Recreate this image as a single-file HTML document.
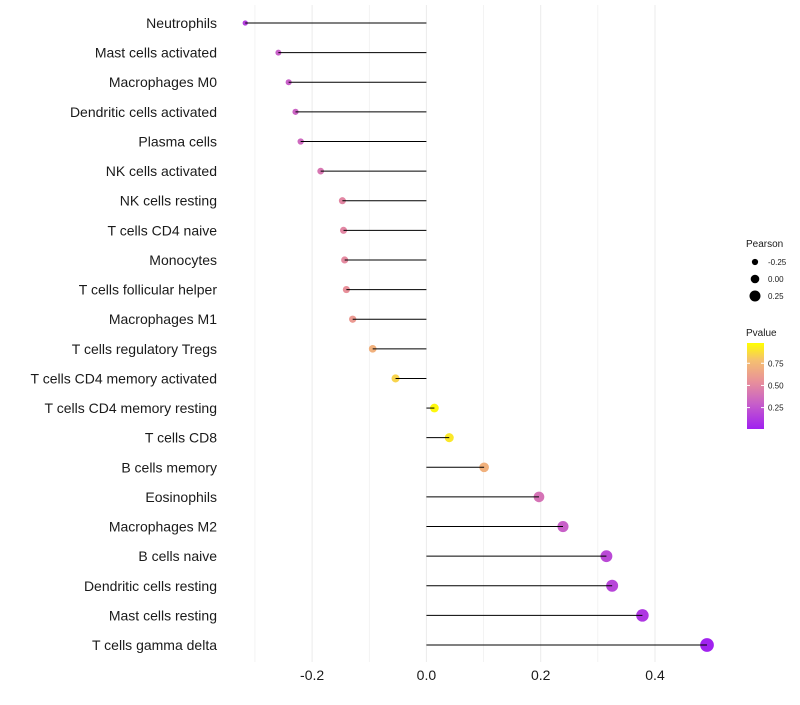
<!DOCTYPE html>
<html><head><meta charset="utf-8"><style>
body{margin:0;background:#fff;font-family:"Liberation Sans",sans-serif}
</style></head><body>
<svg id="c" width="800" height="700" xmlns="http://www.w3.org/2000/svg">
<defs><linearGradient id="g" x1="0" y1="1" x2="0" y2="0">
<stop offset="0" stop-color="#a020f0"/><stop offset="0.3" stop-color="#c860c8"/><stop offset="0.55" stop-color="#e8909a"/><stop offset="0.8" stop-color="#f5c070"/><stop offset="1" stop-color="#ffff00"/></linearGradient></defs>
</svg>
<script>
const categories=["Neutrophils","Mast cells activated","Macrophages M0","Dendritic cells activated","Plasma cells","NK cells activated","NK cells resting","T cells CD4 naive","Monocytes","T cells follicular helper","Macrophages M1","T cells regulatory  Tregs ","T cells CD4 memory activated","T cells CD4 memory resting","T cells CD8","B cells memory","Eosinophils","Macrophages M2","B cells naive","Dendritic cells resting","Mast cells resting","T cells gamma delta"];
const pearson=[-0.317,-0.259,-0.241,-0.229,-0.220,-0.185,-0.147,-0.145,-0.143,-0.140,-0.129,-0.094,-0.054,0.014,0.040,0.101,0.197,0.239,0.315,0.325,0.378,0.491];
const pvalue=[0.15,0.3,0.3,0.32,0.35,0.42,0.5,0.5,0.52,0.55,0.6,0.72,0.86,0.97,0.92,0.72,0.4,0.3,0.2,0.18,0.12,0.03];
const xTicks=[-0.2,0,0.2,0.4];
const xTickLabels=["-0.2","0.0","0.2","0.4"];
const svg=document.getElementById('c');const NS="http://www.w3.org/2000/svg";
const x=v=>426.4+v*571.5;const y=i=>23+i*29.62;
function el(t,a,p){const e=document.createElementNS(NS,t);for(const k in a)e.setAttribute(k,a[k]);(p||svg).appendChild(e);return e;}
const cStops=[[0.02,[160,32,240]],[0.3,[200,96,200]],[0.55,[232,144,154]],[0.8,[245,192,112]],[0.99,[255,255,0]]];
function col(p){if(p<=cStops[0][0])return `rgb(${cStops[0][1]})`;for(let i=1;i<cStops.length;i++){if(p<=cStops[i][0]){const[a,ca]=cStops[i-1],[b,cb]=cStops[i];const t=(p-a)/(b-a);return `rgb(${ca.map((v,j)=>Math.round(v+(cb[j]-v)*t))})`;}}return 'rgb(255,255,0)';}
const rad=v=>Math.max(1.5,4.3+5.2*v);
[-0.3,-0.1,0.1,0.3,-0.2,0,0.2,0.4].forEach(v=>{const g=el('line',{x1:x(v),x2:x(v),y1:5,y2:662,stroke:'#ebebeb','stroke-width':Number.isInteger(Math.round(v*10)/2)?1:0.6});
});
categories.forEach((c,i)=>{
const t=el('text',{x:217,y:y(i)+5,'text-anchor':'end','font-size':14,fill:'#1a1a1a'});t.textContent=c;

const d=el('circle',{cx:x(pearson[i]),cy:y(i),r:rad(pearson[i]),fill:col(pvalue[i])});

const l=el('line',{x1:x(0),x2:x(pearson[i]),y1:y(i),y2:y(i),stroke:'#000','stroke-width':1});

});
xTicks.forEach((v,i)=>{const t=el('text',{x:x(v),y:680,'text-anchor':'middle','font-size':14,fill:'#1a1a1a'});t.textContent=xTickLabels[i];
});
const lg=el('g',{});
let t=el('text',{x:746,y:247,'font-size':10,fill:'#1a1a1a'},lg);t.textContent='Pearson';
[-0.25,0,0.25].forEach((v,i)=>{el('circle',{cx:755,cy:262+i*17,r:4.3+5*v*0.95,fill:'#000'},lg);const s=el('text',{x:768,y:265+i*17,'font-size':8,fill:'#1a1a1a'},lg);s.textContent=v===0?'0.00':v.toFixed(2);});
t=el('text',{x:746,y:336,'font-size':10,fill:'#1a1a1a'},lg);t.textContent='Pvalue';
el('rect',{x:747,y:343,width:17,height:86,fill:'url(#g)'},lg);
[0.75,0.5,0.25].forEach(v=>{const yy=428-(v-0.02)/0.97*86;el('line',{x1:747,x2:750,y1:yy,y2:yy,stroke:'#fff'},lg);el('line',{x1:761,x2:764,y1:yy,y2:yy,stroke:'#fff'},lg);const s=el('text',{x:768,y:yy+3,'font-size':8,fill:'#1a1a1a'},lg);s.textContent=v.toFixed(2);});
</script>
</body></html>
